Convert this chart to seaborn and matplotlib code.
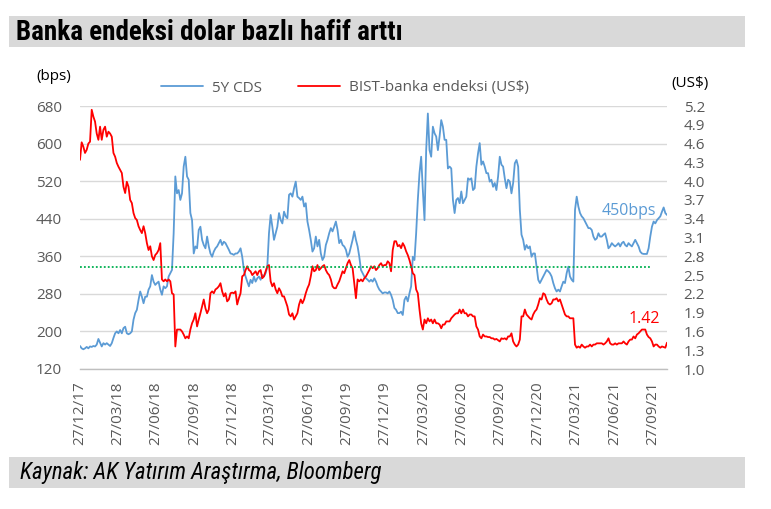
import matplotlib
matplotlib.use("Agg")
import matplotlib.pyplot as plt
import matplotlib.dates as mdates
from matplotlib.patches import Rectangle
from matplotlib.lines import Line2D
from matplotlib import font_manager
import seaborn as sns
import pandas as pd
import numpy as np

# ---------------- data (one value every 4 days) ----------------
start_date = "2017-12-27"
step = "4D"

cds_bps = [
    169, 164, 162, 164, 167, 164, 168, 167, 169, 168,
    172, 184, 176, 168, 175, 172, 175, 172, 169, 175,
    186, 196, 200, 196, 203, 196, 207, 210, 196, 194,
    196, 200, 225, 239, 246, 267, 285, 274, 260, 274,
    274, 289, 296, 320, 306, 299, 303, 306, 289, 278,
    296, 292, 296, 317, 324, 331, 409, 530, 494, 501,
    480, 494, 551, 572, 530, 523, 452, 437, 366, 381,
    377, 416, 423, 395, 384, 377, 402, 381, 366, 359,
    370, 377, 381, 388, 395, 384, 391, 388, 381, 374,
    366, 365, 363, 366,
    366, 370, 377, 359, 331, 317, 306, 296, 310, 303,
    317, 306, 313, 317, 310, 320, 317, 324, 338, 409,
    448, 423, 395, 409, 423, 452, 437, 430, 455, 445,
    441, 491, 494, 487, 505, 519, 487, 484, 480, 487,
    466, 473, 434, 416, 395, 370, 377, 402, 381, 395,
    366, 352, 359, 384, 395, 409, 420, 413, 423, 434,
    416, 388, 395, 384, 381, 374, 359, 366, 381, 395,
    413, 395, 381, 359, 331, 324, 317, 313, 310, 306,
    310, 306, 313, 306, 296, 289, 285, 281, 283, 283,
    281, 285, 278, 267, 250, 246, 239, 239, 242, 235,
    267, 274, 264, 281, 296, 359, 352, 409, 480, 537,
    572, 501, 437, 586, 664, 586, 572, 636, 622, 615,
    586, 615, 650, 636, 608, 608, 547, 551, 547, 480,
    452, 480, 484, 473, 498, 473, 480, 487, 526, 523,
    526, 501, 505, 551, 579, 601, 555, 562, 551, 537,
    537, 519, 523, 508, 516, 501, 530, 572, 555, 551,
    526, 505, 523, 519, 494, 516, 558, 565, 551, 459,
    406, 395, 374, 384, 377, 381, 359, 366, 366, 338,
    310, 303, 310, 317, 324, 331, 328, 324, 317, 303,
    292, 285, 289, 285, 296, 306, 303, 324, 338, 317,
    310, 306, 459, 487, 466, 452, 445, 441, 434, 427,
    420, 420, 416, 402, 395, 398, 409, 402, 402, 406,
    409, 395, 377, 381, 388, 384, 381, 384, 388, 381,
    388, 391, 384, 381, 388, 384, 381, 388, 395, 388,
    381, 370, 366, 365, 365, 365, 377, 402, 423, 434,
    430, 437, 441, 445, 455, 464, 452, 448,
]

bist_usd = [
    4.34, 4.62, 4.55, 4.45, 4.50, 4.60, 4.63, 5.14, 5.03, 4.95,
    4.76, 4.66, 4.87, 4.66, 4.82, 4.87, 4.71, 4.79, 4.76, 4.71,
    4.45, 4.39, 4.29, 4.23, 4.18, 4.13, 3.91, 3.81, 3.99, 3.91,
    3.70, 3.65, 3.49, 3.41, 3.38, 3.28, 3.22, 3.17, 3.28, 3.17,
    3.01, 2.90, 2.96, 2.80, 2.74, 2.82, 2.85, 2.90, 3.01, 2.43,
    2.40, 2.43, 2.40, 2.43, 2.40, 2.21, 2.19, 1.36, 1.63, 1.63,
    1.63, 1.60, 1.55, 1.49, 1.52, 1.49, 1.63, 1.73, 1.79, 1.89,
    1.68, 1.79, 1.89, 2.00, 2.11, 1.97, 1.89, 1.95, 2.21, 2.24,
    2.21, 2.27, 2.29, 2.32, 2.37, 2.24, 2.16, 2.21, 2.08, 2.11,
    2.21, 2.22, 2.21, 2.24,
    2.03, 2.13, 2.21, 2.48, 2.50, 2.58, 2.64, 2.58, 2.56, 2.50,
    2.53, 2.56, 2.50, 2.56, 2.58, 2.45, 2.48, 2.56, 2.64, 2.66,
    2.40, 2.32, 2.37, 2.27, 2.21, 2.29, 2.24, 2.16, 2.16, 2.08,
    2.00, 1.87, 1.84, 1.89, 1.79, 1.84, 1.89, 2.03, 2.11, 2.05,
    2.11, 2.21, 2.29, 2.35, 2.48, 2.64, 2.56, 2.58, 2.66, 2.58,
    2.61, 2.64, 2.66, 2.58, 2.53, 2.50, 2.43, 2.32, 2.29, 2.29,
    2.35, 2.40, 2.48, 2.56, 2.53, 2.61, 2.69, 2.74, 2.66, 2.61,
    2.37, 2.13, 2.43, 2.40, 2.43, 2.40, 2.45, 2.48, 2.53, 2.58,
    2.64, 2.61, 2.64, 2.58, 2.61, 2.66, 2.69, 2.64, 2.66, 2.66,
    2.72, 2.69, 2.56, 2.90, 3.04, 3.04, 2.96, 2.98, 2.93, 3.01,
    2.96, 2.88, 2.82, 2.74, 2.64, 2.53, 2.50, 2.27, 2.21, 1.95,
    1.73, 1.63, 1.79, 1.73, 1.81, 1.76, 1.79, 1.73, 1.79, 1.73,
    1.73, 1.71, 1.65, 1.71, 1.71, 1.76, 1.76, 1.76, 1.81, 1.84,
    1.87, 1.89, 1.89, 1.95, 1.89, 1.95, 1.89, 1.89, 1.84, 1.87,
    1.87, 1.84, 1.84, 1.68, 1.63, 1.52, 1.49, 1.55, 1.52, 1.52,
    1.51, 1.51, 1.49, 1.49, 1.47, 1.48, 1.46, 1.44, 1.49, 1.48,
    1.49, 1.47, 1.52, 1.52, 1.57, 1.44, 1.39, 1.36, 1.39, 1.47,
    1.84, 1.84, 1.95, 1.87, 1.84, 1.81, 1.79, 1.87, 1.92, 1.95,
    2.03, 2.13, 2.11, 2.21, 2.19, 2.11, 2.05, 2.03, 2.05, 2.11,
    2.11, 2.13, 2.08, 2.11, 2.03, 1.95, 1.87, 1.84, 1.84, 1.81,
    1.81, 1.81, 1.39, 1.34, 1.36, 1.34, 1.39, 1.36, 1.34, 1.36,
    1.36, 1.39, 1.36, 1.39, 1.39, 1.41, 1.41, 1.41, 1.41, 1.39,
    1.41, 1.44, 1.49, 1.41, 1.39, 1.39, 1.41, 1.39, 1.41, 1.41,
    1.41, 1.44, 1.41, 1.39, 1.44, 1.47, 1.47, 1.52, 1.49, 1.55,
    1.57, 1.60, 1.63, 1.63, 1.63, 1.55, 1.51, 1.49, 1.44, 1.36,
    1.39, 1.39, 1.36, 1.34, 1.36, 1.35, 1.34, 1.42,
]

avg_dates = ["2017-12-27", "2021-09-20"]
avg_usd = [2.63, 2.63]

series_labels = ["5Y CDS", "BIST-banka endeksi (US$)"]
left_ticks = [120, 200, 280, 360, 440, 520, 600, 680]
right_ticks = [1.0, 1.3, 1.6, 1.9, 2.2, 2.5, 2.8, 3.1, 3.4, 3.7, 4.0, 4.3, 4.6, 4.9, 5.2]
title_text = "Banka endeksi dolar bazlı hafif arttı"
source_text = "Kaynak: AK Yatırım Araştırma, Bloomberg"
cds_note = "450bps"
bist_note = "1.42"

# ---------------- styling ----------------
sns.set_theme(style="white")
avail = {f.name for f in font_manager.fontManager.ttflist}
def pick(*names):
    for n in names:
        if n in avail:
            return n
    return "DejaVu Sans"
base = pick("Open Sans", "Lato", "DejaVu Sans")
narrow = pick("Liberation Sans Narrow", "Roboto Condensed", "Open Sans Condensed", "Lato", base)
plt.rcParams["font.family"] = [base, "DejaVu Sans"]

BLUE = "#5B9BD5"
RED = "#FF0000"
GREEN = "#00B050"
GREY_TXT = "#595959"
GRID = "#D9D9D9"
AXLINE = "#BFBFBF"

W, H = 771, 509
fig = plt.figure(figsize=(W / 100, H / 100), dpi=100)
fig.patch.set_facecolor("white")

def fx(px):
    return px / W
def fy(py):
    return 1 - py / H

ax = fig.add_axes([fx(80), fy(369), fx(667) - fx(80), fy(106) - fy(369)])
ax2 = ax.twinx()

df_cds = pd.DataFrame({"date": pd.date_range(start_date, periods=len(cds_bps), freq=step),
                       "value": cds_bps})
df_bist = pd.DataFrame({"date": pd.date_range(start_date, periods=len(bist_usd), freq=step),
                        "value": bist_usd})
df_avg = pd.DataFrame({"date": pd.to_datetime(avg_dates), "value": avg_usd})

sns.lineplot(data=df_cds, x="date", y="value", ax=ax, color=BLUE, linewidth=1.3, legend=False)
sns.lineplot(data=df_bist, x="date", y="value", ax=ax2, color=RED, linewidth=1.3, legend=False)
sns.lineplot(data=df_avg, x="date", y="value", ax=ax2, color=GREEN, linewidth=1.3,
             linestyle=(0, (1, 1.2)), legend=False, zorder=5)

# axes limits / ticks
ax.set_xlim(df_cds["date"].iloc[0], df_cds["date"].iloc[-1])
ax.set_ylim(120, 680)
ax2.set_ylim(1.0, 5.2)
ax.set_yticks(left_ticks)
ax2.set_yticks(right_ticks)
ax2.set_yticklabels([f"{v:.1f}" for v in right_ticks])

xt = [pd.Timestamp(start_date) + pd.DateOffset(months=3 * i) for i in range(16)]
ax.set_xticks(xt)
ax.xaxis.set_major_formatter(mdates.DateFormatter("%d/%m/%y"))
for lab in ax.get_xticklabels():
    lab.set_rotation(90)

ax.set_xlabel("")
ax.set_ylabel("")
ax2.set_ylabel("")

ax.grid(axis="y", color=GRID, linewidth=1.0)
ax.grid(axis="x", visible=False)
ax2.grid(False)
for a in (ax, ax2):
    for s in ("top", "left", "right"):
        a.spines[s].set_visible(False)
    a.spines["bottom"].set_visible(False)
ax.spines["bottom"].set_visible(True)
ax.spines["bottom"].set_color(AXLINE)
ax.spines["bottom"].set_linewidth(1.0)

ax.tick_params(axis="x", which="major", direction="out", length=5, width=1, color=AXLINE,
               labelsize=11, labelcolor=GREY_TXT, pad=4)
ax.tick_params(axis="y", length=0, labelsize=11, labelcolor=GREY_TXT, pad=13)
ax2.tick_params(axis="y", length=0, labelsize=11, labelcolor=GREY_TXT, pad=12)

# annotations
ax.text(0.935, 0.601, cds_note, transform=ax.transAxes, color=BLUE, fontsize=11.5,
        ha="center", va="center")
ax2.text(0.962, 0.19, bist_note, transform=ax2.transAxes, color=RED, fontsize=11.5,
         ha="center", va="center")

# unit labels
fig.text(fx(36), fy(76), "(bps)", fontsize=11, color="black", ha="left", va="center")
fig.text(fx(690), fy(84), "(US$)", fontsize=11, color="black", ha="center", va="center")

# legend
handles = [Line2D([0], [0], color=BLUE, lw=1.3), Line2D([0], [0], color=RED, lw=1.3)]
fig.legend(handles, series_labels, loc="center", bbox_to_anchor=(fx(345), fy(88)), ncol=2,
           frameon=False, fontsize=11, labelcolor=GREY_TXT, handlelength=2.7,
           handletextpad=0.6, columnspacing=2.4)

# title & source bars
fig.add_artist(Rectangle((fx(9), fy(47)), fx(745) - fx(9), fy(16) - fy(47),
                         transform=fig.transFigure, facecolor="#D9D9D9", edgecolor="none", zorder=0))
fig.add_artist(Rectangle((fx(9), fy(488)), fx(745) - fx(9), fy(457) - fy(488),
                         transform=fig.transFigure, facecolor="#D9D9D9", edgecolor="none", zorder=0))

t = fig.text(fx(16), fy(32), title_text, fontsize=15, fontweight="bold", color="black",
             ha="left", va="center", family=[narrow, "DejaVu Sans"])
s = fig.text(fx(20), fy(473), source_text, fontsize=13, fontstyle="italic", color="black",
             ha="left", va="center", family=[narrow, "DejaVu Sans"])

# fit title/source widths to the reference
fig.canvas.draw()
r = fig.canvas.get_renderer()
for txt, target in ((t, 385), (s, 360)):
    w = txt.get_window_extent(r).width
    txt.set_fontsize(txt.get_fontsize() * target / w)

fig.savefig("out.png", dpi=100, facecolor="white")
